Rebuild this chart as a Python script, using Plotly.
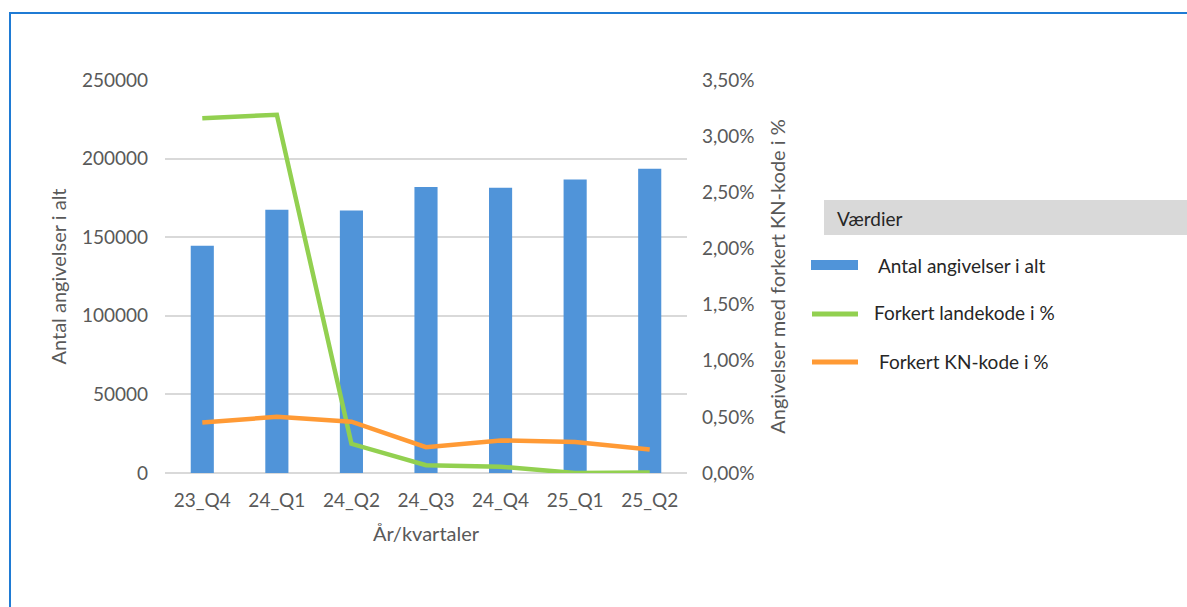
import plotly.graph_objects as go

# Quarterly declaration counts and error shares
quarters = ["23_Q4", "24_Q1", "24_Q2", "24_Q3", "24_Q4", "25_Q1", "25_Q2"]
antal_angivelser = [144500, 167500, 167000, 182000, 181500, 186700, 193600]
forkert_landekode = [0.0316, 0.0319, 0.0026, 0.0007, 0.00056, 0.0000, 0.00005]
forkert_kn_kode = [0.0045, 0.0050, 0.00457, 0.0023, 0.0029, 0.00277, 0.0021]

series_names = ["Antal angivelser i alt", "Forkert landekode i %", "Forkert KN-kode i %"]
colors = ["#5094d9", "#92d050", "#ff9a35"]

FONT = "Lato"
GREY = "#595959"
W, H = 1187, 607
ML, MR, MT, MB = 165, 500, 80, 134
PW, PH = W - ML - MR, H - MT - MB


def px_x(px):
    return (px - ML) / PW


def px_y(py):
    return (H - MB - py) / PH


fig = go.Figure()
fig.add_trace(go.Bar(x=quarters, y=antal_angivelser, name=series_names[0],
                     marker=dict(color=colors[0], line=dict(width=0)), yaxis="y"))
fig.add_trace(go.Scatter(x=quarters, y=forkert_landekode, name=series_names[1], mode="lines",
                         line=dict(color=colors[1], width=4.5), yaxis="y2"))
fig.add_trace(go.Scatter(x=quarters, y=forkert_kn_kode, name=series_names[2], mode="lines",
                         line=dict(color=colors[2], width=4.5), yaxis="y2"))

shapes = [
    # outer frame
    dict(type="rect", xref="paper", yref="paper",
         x0=px_x(10), x1=px_x(W + 20), y0=px_y(H + 20), y1=px_y(13),
         line=dict(color="#1f7bd4", width=2), fillcolor="rgba(0,0,0,0)", layer="below"),
    # legend header
    dict(type="rect", xref="paper", yref="paper",
         x0=px_x(824), x1=px_x(W + 5), y0=px_y(235), y1=px_y(200),
         line=dict(width=0), fillcolor="#d9d9d9", layer="below"),
    # legend keys
    dict(type="rect", xref="paper", yref="paper",
         x0=px_x(811), x1=px_x(858), y0=px_y(270), y1=px_y(260),
         line=dict(width=0), fillcolor=colors[0]),
    dict(type="line", xref="paper", yref="paper",
         x0=px_x(812), x1=px_x(858), y0=px_y(314), y1=px_y(314),
         line=dict(color=colors[1], width=5)),
    dict(type="line", xref="paper", yref="paper",
         x0=px_x(812), x1=px_x(858), y0=px_y(362), y1=px_y(362),
         line=dict(color=colors[2], width=5)),
]

annotations = [
    dict(text="Værdier", x=px_x(835), y=px_y(218), xref="paper", yref="paper",
         xanchor="left", yanchor="middle", showarrow=False,
         font=dict(family=FONT, size=19, color="#262626")),
]
for name, tx, ty in zip(series_names, [876, 872, 877], [265, 312, 361]):
    annotations.append(dict(text=name, x=px_x(tx), y=px_y(ty), xref="paper", yref="paper",
                            xanchor="left", yanchor="middle", showarrow=False,
                            font=dict(family=FONT, size=19, color="#262626")))

fig.update_layout(
    width=W, height=H,
    margin=dict(l=ML, r=MR, t=MT, b=MB, autoexpand=False),
    paper_bgcolor="white", plot_bgcolor="white",
    separators=",.",
    showlegend=False,
    bargap=0.69,
    font=dict(family=FONT, size=19, color=GREY),
    xaxis=dict(
        showgrid=False, showline=False, ticks="",
        ticklabelstandoff=14,
        tickfont=dict(family=FONT, size=19, color=GREY),
        title=dict(text="År/kvartaler", font=dict(family=FONT, size=20, color=GREY), standoff=16),
        automargin=False,
    ),
    yaxis=dict(
        range=[0, 250000], dtick=50000, tickformat="d",
        showgrid=True, gridcolor="#d9d9d9", gridwidth=1.5,
        zeroline=True, zerolinecolor="#d9d9d9", zerolinewidth=1.5,
        showline=False, ticks="", ticklabelstandoff=16,
        tickfont=dict(family=FONT, size=19, color=GREY),
        title=dict(text="Antal angivelser i alt", font=dict(family=FONT, size=20, color=GREY), standoff=9),
        automargin=False,
    ),
    yaxis2=dict(
        overlaying="y", side="right",
        range=[0, 0.035], dtick=0.005, tickformat=".2%",
        showgrid=False, zeroline=False, showline=False, ticks="",
        ticklabelstandoff=14,
        tickfont=dict(family=FONT, size=19, color=GREY),
        title=dict(text="Angivelser med forkert KN-kode i %", font=dict(family=FONT, size=20, color=GREY), standoff=17),
        automargin=False,
    ),
    shapes=shapes,
    annotations=annotations,
)

fig.write_html("out.html")
